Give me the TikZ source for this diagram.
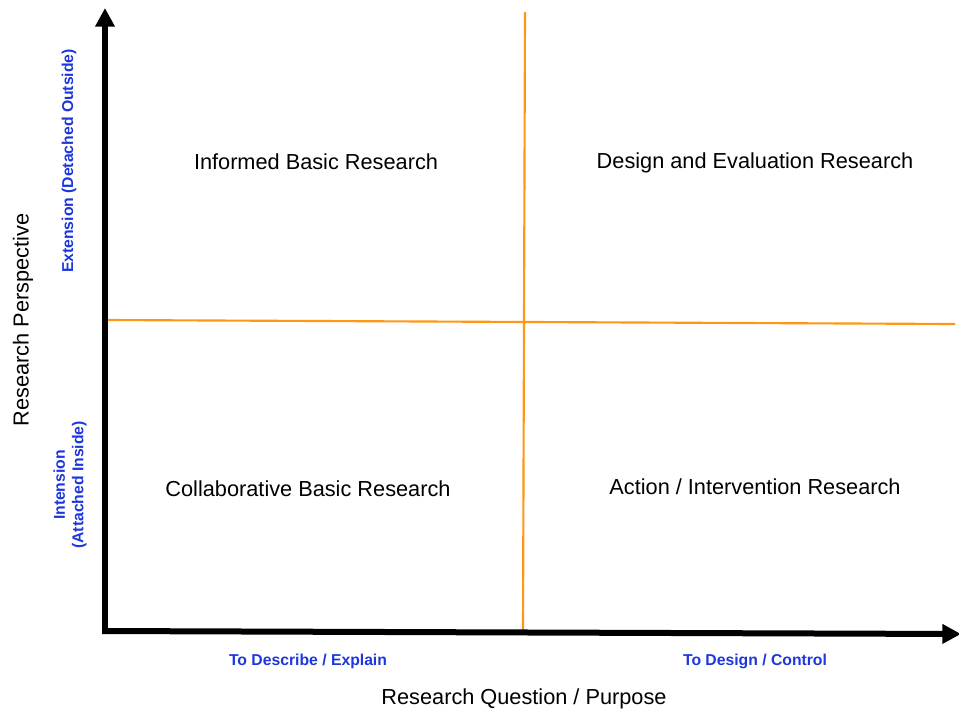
\documentclass[tikz,border=0pt]{standalone}
\usepackage{fontspec}
\setmainfont{Liberation Sans}
\usetikzlibrary{arrows.meta}
\definecolor{lblblue}{RGB}{30,55,220}
\definecolor{gridorange}{RGB}{255,150,20}
\begin{document}
\begin{tikzpicture}[x=0.75pt,y=-0.75pt,
  axis/.style={line width=4.5pt,-{Triangle[length=14pt,width=14pt]}},
  divider/.style={draw=gridorange,line width=1.6pt},
  quad/.style={font=\fontsize{16.3}{19}\selectfont,text=black},
  axtitle/.style={font=\fontsize{16.3}{19}\selectfont,text=black},
  blue/.style={font=\bfseries\fontsize{11.8}{13.8}\selectfont,text=lblblue,align=center}]
\useasboundingbox (0,0) rectangle (959,711);
\coordinate (O) at (105,631);
\coordinate (ytip) at (105,8);
\coordinate (xtip) at (961,634);
\coordinate (vtop) at (525,12);
\coordinate (vbot) at (523,631);
\coordinate (hl) at (107,320);
\coordinate (hr) at (955,324);
\draw[divider] (vtop) -- (vbot);
\draw[divider] (hl) -- (hr);
\draw[axis] ([xshift=-2.2pt]O) -- (xtip);
\draw[axis] ([yshift=-2.2pt]O) -- (ytip);
\node[quad] (q1) at (316,162) {Informed Basic Research};
\node[quad] (q2) at (755,163) {Design and Evaluation Research};
\node[quad] (q3) at (308,489) {Collaborative Basic Research};
\node[quad] (q4) at (755,487) {Action / Intervention Research};
\node[axtitle,rotate=90] (yt) at (23,320) {Research Perspective};
\node[axtitle] (xt) at (524,699) {Research Question / Purpose};
\node[blue,rotate=90] (ext) at (69,161) {Extension (Detached Outside)};
\node[blue,rotate=90] (int) at (70,485) {Intension\\(Attached Inside)};
\node[blue] (xl) at (308,661) {To Describe / Explain};
\node[blue] (xr) at (755,661) {To Design / Control};
\end{tikzpicture}
\end{document}
